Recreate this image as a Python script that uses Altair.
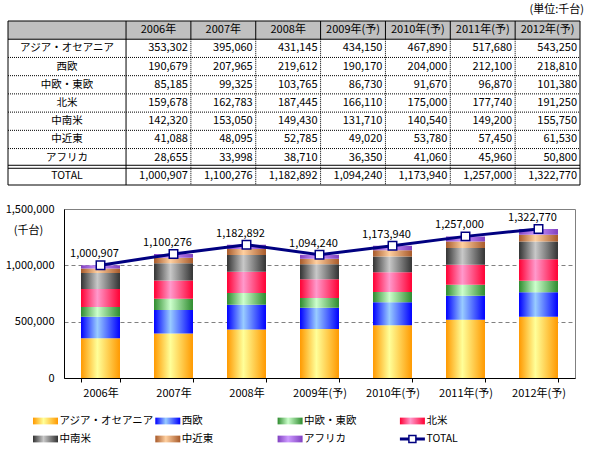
import altair as alt
import pandas as pd

FONT = "Noto Sans CJK JP"

# ---- data -------------------------------------------------------------
years = ["2006年", "2007年", "2008年", "2009年(予)", "2010年(予)", "2011年(予)", "2012年(予)"]
regions = ["アジア・オセアニア", "西欧", "中欧・東欧", "北米", "中南米", "中近東", "アフリカ"]

asia_oceania = [353302, 395060, 431145, 434150, 467890, 517680, 543250]
west_europe = [190679, 207965, 219612, 190170, 204000, 212100, 218810]
central_east_europe = [85185, 99325, 103765, 86730, 91670, 96870, 101380]
north_america = [159678, 162783, 187445, 166110, 175000, 177740, 191250]
latin_america = [142320, 153050, 149430, 131710, 140540, 149200, 155750]
middle_east = [41088, 48095, 52785, 49020, 53780, 57450, 61530]
africa = [28655, 33998, 38710, 36350, 41060, 45960, 50800]
totals = [1000907, 1100276, 1182892, 1094240, 1173940, 1257000, 1322770]

series = [asia_oceania, west_europe, central_east_europe, north_america,
          latin_america, middle_east, africa]

# (edge colour, highlight colour) for the cylinder-style fills
shades = [
    ("#FF9900", "#FFFF99"),
    ("#0000FF", "#99CCFF"),
    ("#2E8B2E", "#CCFFCC"),
    ("#FF0033", "#FF99CC"),
    ("#333333", "#C8C8C8"),
    ("#A85A2A", "#FFD0A0"),
    ("#8040C0", "#CC99FF"),
]
NAVY = "#000080"


def cylinder(dark, light):
    return alt.Gradient(
        gradient="linear", x1=0, x2=1, y1=0, y2=0,
        stops=[alt.GradientStop(color=dark, offset=0),
               alt.GradientStop(color=light, offset=0.42),
               alt.GradientStop(color=dark, offset=1)],
    )


rows = []
for k, (name, vals) in enumerate(zip(regions, series)):
    for yr, v in zip(years, vals):
        rows.append({"year": yr, "region": name, "order": k, "value": v})
long_df = pd.DataFrame(rows)
total_df = pd.DataFrame({"year": years, "total": totals})

# ---- stacked bars + TOTAL line ---------------------------------------
x_main = alt.Scale(domain=years, paddingInner=0.466, paddingOuter=0.233)
y_main = alt.Scale(domain=[0, 1500000], nice=False, zero=True)
x_axis = alt.Axis(title=None, labelAngle=0, tickBand="extent", tickSize=4,
                  labelPadding=5, labelFontSize=11, labelColor="black",
                  labelFont=FONT, domainColor="black", tickColor="black")
y_axis = alt.Axis(title="(千台)", values=[0, 500000, 1000000, 1500000],
                  labelExpr="format(datum.value, ',')",
                  ticks=False, grid=True, gridDash=[4, 3], gridColor="#808080",
                  domainColor="black", labelPadding=10, labelFontSize=11,
                  labelColor="black", labelFont=FONT,
                  titleAngle=0, titleX=-36, titleY=21, titleAlign="center",
                  titleBaseline="middle", titleFontSize=11, titleFontWeight="normal",
                  titleColor="black", titleFont=FONT)

stacked = alt.Chart(long_df).transform_stack(
    stack="value", groupby=["year"], as_=["y0", "y1"],
    sort=[alt.SortField("order", order="ascending")],
)
bar_layers = []
for name, (dark, light) in zip(regions, shades):
    bar_layers.append(
        stacked.transform_filter(alt.datum.region == name)
        .mark_bar(fill=cylinder(dark, light))
        .encode(
            x=alt.X("year:N", sort=years, scale=x_main, axis=x_axis),
            y=alt.Y("y0:Q", scale=y_main, axis=y_axis),
            y2="y1:Q",
        )
    )

line_base = alt.Chart(total_df).encode(
    x=alt.X("year:N", sort=years, scale=x_main, axis=x_axis),
    y=alt.Y("total:Q", scale=y_main, axis=y_axis),
)
total_line = line_base.mark_line(color=NAVY, strokeWidth=3)
total_pts = line_base.mark_point(shape="square", size=72, filled=True, fill="white",
                                 stroke=NAVY, strokeWidth=1.5, opacity=1)
total_lbl = line_base.mark_text(dy=-11, dx=-6, fontSize=11, font=FONT, color="black").encode(
    text=alt.Text("total:Q", format=",")
)

main = alt.layer(*bar_layers, total_line, total_pts, total_lbl)

# ---- data table above the chart --------------------------------------
LABEL_COL = 1.82   # width of the row-label column, in year-column units
tx = alt.Scale(domain=[-LABEL_COL, 7], range=[-56, 516], nice=False, zero=False)
ty = alt.Scale(domain=[0, 9], range=[-188, -24], nice=False, zero=False)

header_df = pd.DataFrame({"hx": [i + 0.5 for i in range(7)], "hy": 0.5, "head": years})
label_df = pd.DataFrame({
    "lx": [-LABEL_COL / 2] * 8,
    "ly": [i + 1.5 for i in range(7)] + [8.5],
    "label": regions + ["TOTAL"],
})
cell_rows = []
for i, vals in enumerate(series + [totals]):
    for j, v in enumerate(vals):
        cell_rows.append({"xr": j + 1, "yc": (i + 1.5) if i < 7 else 8.5, "value": v})
cell_df = pd.DataFrame(cell_rows)

header_bg = alt.Chart(pd.DataFrame({"x0": [-LABEL_COL], "x1": [7], "y0": [0], "y1": [1]})).mark_rect(
    fill="#C0C0C0").encode(
    x=alt.X("x0:Q", scale=tx, axis=None), x2="x1:Q",
    y=alt.Y("y0:Q", scale=ty, axis=None), y2="y1:Q")


def hrules(df, **style):
    return alt.Chart(df).mark_rule(color="black", strokeWidth=1, **style).encode(
        x=alt.X("x0:Q", scale=tx, axis=None), x2="x1:Q",
        y=alt.Y("y:Q", scale=ty, axis=None))


def vrules(df, **style):
    return alt.Chart(df).mark_rule(color="black", strokeWidth=1, **style).encode(
        x=alt.X("x:Q", scale=tx, axis=None),
        y=alt.Y("y0:Q", scale=ty, axis=None), y2="y1:Q")


h_solid = pd.DataFrame({"y": [0, 1, 9], "x0": -LABEL_COL, "x1": 7})
h_double = pd.DataFrame({"y": [8], "x0": -LABEL_COL, "x1": 7})
h_dotted = pd.DataFrame({"y": [2, 3, 4, 5, 6, 7], "x0": -LABEL_COL, "x1": 7})
v_solid = pd.DataFrame({"x": [-LABEL_COL, 0, 7], "y0": 0, "y1": 9})
v_head = pd.DataFrame({"x": [1, 2, 3, 4, 5, 6], "y0": 0, "y1": 1})
v_dotted = pd.DataFrame({"x": [1, 2, 3, 4, 5, 6], "y0": 1, "y1": 9})

header_txt = alt.Chart(header_df).mark_text(
    fontSize=11, font=FONT, color="black", align="center", baseline="middle").encode(
    x=alt.X("hx:Q", scale=tx, axis=None), y=alt.Y("hy:Q", scale=ty, axis=None), text="head:N")
label_txt = alt.Chart(label_df).mark_text(
    fontSize=10.5, font=FONT, color="black", align="center", baseline="middle").encode(
    x=alt.X("lx:Q", scale=tx, axis=None), y=alt.Y("ly:Q", scale=ty, axis=None), text="label:N")
cell_txt = alt.Chart(cell_df).mark_text(
    fontSize=11, font=FONT, color="black", align="right", baseline="middle", dx=-3).encode(
    x=alt.X("xr:Q", scale=tx, axis=None), y=alt.Y("yc:Q", scale=ty, axis=None),
    text=alt.Text("value:Q", format=","))
unit_txt = alt.Chart(pd.DataFrame({"ux": [7], "uy": [-0.6], "unit": ["(単位:千台)"]})).mark_text(
    fontSize=11, font=FONT, color="black", align="right", baseline="middle", dx=4).encode(
    x=alt.X("ux:Q", scale=tx, axis=None), y=alt.Y("uy:Q", scale=ty, axis=None), text="unit:N")

table = alt.layer(
    header_bg,
    hrules(h_dotted, strokeDash=[1, 1]),
    vrules(v_dotted, strokeDash=[1, 1]),
    hrules(h_solid),
    hrules(h_double, yOffset=-1.5),
    hrules(h_double, yOffset=1.5),
    vrules(v_solid),
    vrules(v_head),
    header_txt, label_txt, cell_txt, unit_txt,
)

# ---- legend below the chart ------------------------------------------
legend_names = regions + ["TOTAL"]
leg_df = pd.DataFrame({
    "name": legend_names,
    "col": [i % 4 for i in range(len(legend_names))],
    "row": [i // 4 for i in range(len(legend_names))],
})
lx = alt.Scale(domain=[0, 4], range=[-18.5, -18.5 + 4 * 122.3], nice=False, zero=False)
ly = alt.Scale(domain=[0, 1], range=[212, 230], nice=False, zero=False)
leg_base = alt.Chart(leg_df).encode(
    x=alt.X("col:Q", scale=lx, axis=None),
    y=alt.Y("row:Q", scale=ly, axis=None),
)
SWATCH = "M-1,-0.27L1,-0.27L1,0.27L-1,0.27Z"
leg_layers = []
for name, (dark, light) in zip(regions, shades):
    leg_layers.append(
        leg_base.transform_filter(alt.datum.name == name).mark_point(
            shape=SWATCH, size=625, filled=True, fill=cylinder(dark, light),
            strokeWidth=0, opacity=1)
    )
leg_layers.append(
    leg_base.transform_filter(alt.datum.name == "TOTAL").mark_point(
        shape="stroke", size=625, stroke=NAVY, strokeWidth=3, opacity=1)
)
leg_layers.append(
    leg_base.transform_filter(alt.datum.name == "TOTAL").mark_point(
        shape="square", size=49, filled=True, fill="white", stroke=NAVY,
        strokeWidth=1.5, opacity=1)
)
leg_layers.append(
    leg_base.mark_text(align="left", baseline="middle", dx=14, fontSize=10.5,
                       font=FONT, color="black").encode(text="name:N")
)
legend = alt.layer(*leg_layers)

chart = (
    alt.layer(main, table, legend)
    .resolve_scale(x="independent", y="independent")
    .properties(
        width=511, height=169,
        padding={"left": 64, "top": 209, "right": 15, "bottom": 79},
        autosize=alt.AutoSizeParams(type="none"),
    )
    .configure_view(stroke="#808080", strokeWidth=1)
)

chart.save("out.html", embed_options={"renderer": "svg", "actions": False})
